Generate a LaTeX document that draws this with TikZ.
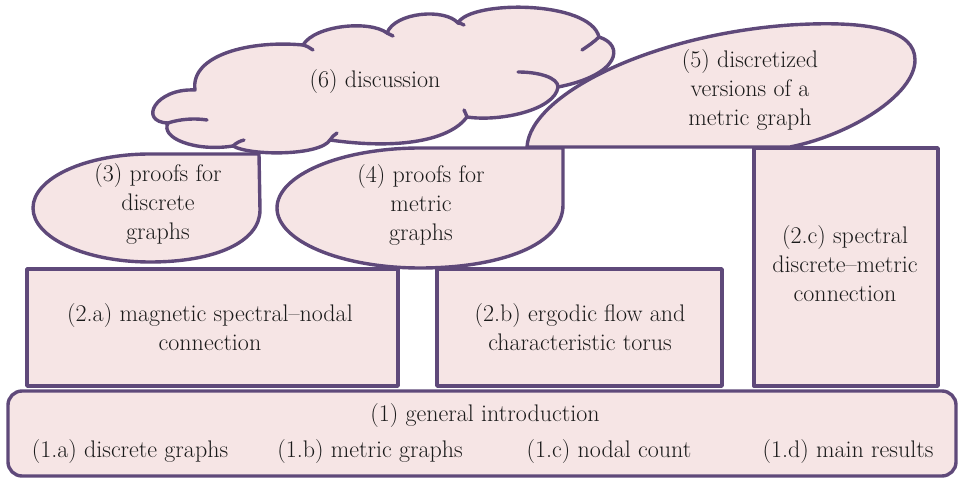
\documentclass[tikz,border=0pt]{standalone}
\definecolor{edgec}{HTML}{5F497A}
\definecolor{fillc}{HTML}{F6E5E5}
\definecolor{txtc}{HTML}{1A1A1A}
\begin{document}
\begin{tikzpicture}[x=1pt,y=-1pt,
  shp/.style={draw=edgec,fill=fillc,line width=3.4pt,line join=round},
  inner/.style={draw=edgec,line width=3.4pt,line cap=round},
  lbl/.style={font=\rmfamily\fontsize{24}{29}\selectfont,align=center,text=txtc,inner sep=0pt}]
\useasboundingbox (0,0) rectangle (959,478);

% (1) general introduction
\path[shp,rounded corners=14pt] (8,391) rectangle (956,476);
% (2.x) boxes
\path[shp] (27,269) rectangle (398,386);
\path[shp] (437,269) rectangle (722,386);
\path[shp] (754,148) rectangle (938,386);

% (3) callout
\path[shp] (259,154) -- (150,154) .. controls (86,154) and (33,178) .. (33,208)
  .. controls (33,238) and (86,262) .. (150,262)
  .. controls (215,262) and (260,242) .. (260,210) -- cycle;
% (4) callout
\path[shp] (563,148) -- (420,148) .. controls (341,148) and (277,175) .. (277,208)
  .. controls (277,241) and (341,268) .. (420,268)
  .. controls (500,268) and (563,245) .. (563,205) -- cycle;

% (6) cloud
\path[shp] (168,123) .. controls (138,122) and (155,88) .. (195,90)
  .. controls (190,55) and (250,40) .. (303,45)
  .. controls (315,25) and (370,20) .. (387,33)
  .. controls (395,12) and (445,8) .. (458,23)
  .. controls (470,0) and (590,0) .. (599,37)
  .. controls (625,45) and (620,75) .. (558,87)
  .. controls (555,110) and (500,122) .. (467,117)
  .. controls (450,140) and (400,150) .. (330,140)
  .. controls (320,156) and (250,156) .. (233,146)
  .. controls (195,152) and (160,138) .. (168,123) -- cycle;
\draw[inner] (168,123) .. controls (180,119) and (195,118) .. (207,120);
\draw[inner] (233,146) .. controls (236,143) and (240,141) .. (244,140);
\draw[inner] (330,140) .. controls (332,137) and (334,135) .. (337,133);
\draw[inner] (303,45) .. controls (307,46) and (310,48) .. (313,50);
\draw[inner] (387,33) .. controls (389,34) and (391,35) .. (393,36);
\draw[inner] (458,23) .. controls (460,23) and (462,24) .. (464,25);
\draw[inner] (599,37) .. controls (594,42) and (588,46) .. (582,50);
\draw[inner] (518,72) .. controls (540,72) and (558,78) .. (558,87);
\draw[inner] (467,117) .. controls (466,114) and (465,112) .. (464,110);

% (5) callout
\path[shp] (527,147) -- (790,147) .. controls (850,135) and (915,95) .. (915,60)
  .. controls (915,30) and (870,20) .. (790,25)
  .. controls (650,35) and (530,95) .. (527,147) -- cycle;

% labels
\node[lbl] (t6) at (375,82) {(6) discussion};
\node[lbl] (t5) at (750,90) {(5) discretized\\versions of a\\metric graph};
\node[lbl] (t3) at (158,204) {(3) proofs for\\discrete\\graphs};
\node[lbl] (t4) at (421,205) {(4) proofs for\\metric\\graphs};
\node[lbl] (t2a) at (210,327) {(2.a) magnetic spectral–nodal\\connection};
\node[lbl] (t2b) at (580,327) {(2.b) ergodic flow and\\characteristic torus};
\node[lbl] (t2c) at (845,264) {(2.c) spectral\\discrete–metric\\connection};
\node[lbl] (t1) at (485,416) {(1) general introduction};
\node[lbl] (t1a) at (130,452) {(1.a) discrete graphs};
\node[lbl] (t1b) at (370,452) {(1.b) metric graphs};
\node[lbl] (t1c) at (609,452) {(1.c) nodal count};
\node[lbl] (t1d) at (848,452) {(1.d) main results};
\end{tikzpicture}
\end{document}
